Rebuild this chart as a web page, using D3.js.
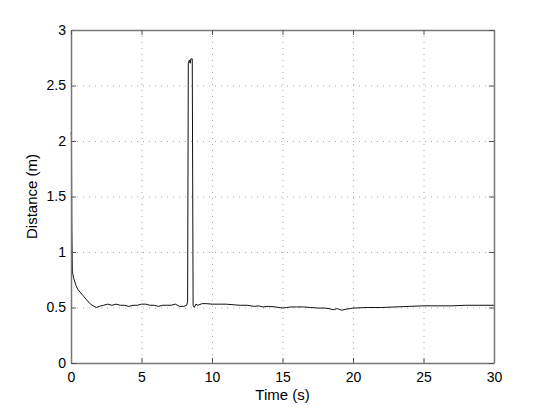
<!DOCTYPE html>
<html>
<head>
<meta charset="utf-8">
<script src="https://cdn.jsdelivr.net/npm/d3@7"></script>
<style>
  body { margin: 0; background: #fff; }
  svg { display: block; font-family: Arial, "Liberation Sans", Helvetica, sans-serif; }
</style>
</head>
<body>
<div id="chart"></div>
<script>
var time = [0, 0.03, 0.06, 0.1, 0.2, 0.35, 0.5, 0.7, 0.9, 1.1, 1.3, 1.5, 1.8, 2.0,
    2.3, 2.6, 2.9, 3.2, 3.5, 3.8, 4.1, 4.4, 4.7, 5.0, 5.3, 5.6, 5.9, 6.2, 6.5, 6.8,
    7.1, 7.4, 7.7, 8.0, 8.2, 8.27, 8.32, 8.4, 8.45, 8.5, 8.6, 8.66, 8.75, 8.85, 9.0,
    9.3, 9.6, 10.0, 10.5, 11.0, 11.5, 12.0, 12.5, 13.0, 13.3, 13.6, 14.0, 14.5, 15.0,
    15.3, 15.6, 16.0, 16.5, 17.0, 17.5, 18.0, 18.3, 18.6, 18.9, 19.2, 19.5, 19.8, 20.0,
    21.0, 22.0, 23.0, 24.0, 25.0, 26.0, 27.0, 28.0, 29.0, 30.0];
var distance = [2.08, 2.05, 1.2, 0.82, 0.76, 0.70, 0.66, 0.63, 0.60, 0.57, 0.54, 0.52, 0.50, 0.51,
    0.52, 0.53, 0.52, 0.53, 0.52, 0.52, 0.51, 0.52, 0.52, 0.53, 0.53, 0.52, 0.52, 0.51, 0.52, 0.52,
    0.52, 0.53, 0.51, 0.51, 0.52, 0.55, 2.70, 2.73, 2.70, 2.74, 2.74, 0.52, 0.50, 0.53, 0.52,
    0.535, 0.535, 0.53, 0.53, 0.53, 0.525, 0.52, 0.52, 0.51, 0.515, 0.505, 0.51, 0.505, 0.495,
    0.50, 0.505, 0.505, 0.505, 0.50, 0.495, 0.495, 0.49, 0.48, 0.49, 0.475, 0.485, 0.49, 0.495,
    0.50, 0.50, 0.505, 0.51, 0.515, 0.515, 0.515, 0.52, 0.52, 0.52];
var xTicks = [0, 5, 10, 15, 20, 25, 30];
var yTicks = [0, 0.5, 1, 1.5, 2, 2.5, 3];

var width = 546, height = 409;
var margin = {top: 30, right: 52, bottom: 46, left: 71};
var innerW = width - margin.left - margin.right;
var innerH = height - margin.top - margin.bottom;

var svg = d3.select("#chart").append("svg")
    .attr("width", width)
    .attr("height", height);

var g = svg.append("g")
    .attr("transform", "translate(" + margin.left + "," + margin.top + ")");

var x = d3.scaleLinear().domain([0, 30]).range([0, innerW]);
var y = d3.scaleLinear().domain([0, 3]).range([innerH, 0]);

// dotted grid
g.selectAll(".gx").data(xTicks.slice(1, -1)).enter().append("line")
    .attr("x1", d => x(d) + 0.5).attr("x2", d => x(d) + 0.5)
    .attr("y1", 0).attr("y2", innerH)
    .attr("stroke", "#aaa").attr("stroke-dasharray", "1,5");
g.selectAll(".gy").data(yTicks.slice(1, -1)).enter().append("line")
    .attr("y1", d => y(d) + 0.5).attr("y2", d => y(d) + 0.5)
    .attr("x1", 0).attr("x2", innerW)
    .attr("stroke", "#aaa").attr("stroke-dasharray", "1,5");

// data line
var line = d3.line().x((d, i) => x(time[i])).y(d => y(d));
g.append("path")
    .datum(distance)
    .attr("d", line)
    .attr("fill", "none")
    .attr("stroke", "#111")
    .attr("stroke-width", 1);

// axes with inward ticks, box on all sides
var tickLen = 5;
g.append("g").attr("transform", "translate(0," + innerH + ")")
    .call(d3.axisBottom(x).tickValues(xTicks).tickSizeInner(-tickLen).tickSizeOuter(0).tickPadding(9));
g.append("g")
    .call(d3.axisLeft(y).tickValues(yTicks).tickFormat(d3.format("")).tickSizeInner(-tickLen).tickSizeOuter(0).tickPadding(5));
g.append("g")
    .call(d3.axisTop(x).tickValues(xTicks).tickSizeInner(-tickLen).tickSizeOuter(0).tickFormat(""));
g.append("g").attr("transform", "translate(" + innerW + ",0)")
    .call(d3.axisRight(y).tickValues(yTicks).tickSizeInner(-tickLen).tickSizeOuter(0).tickFormat(""));

g.selectAll(".domain").attr("stroke", "#777").attr("stroke-width", 1.5);
g.selectAll(".tick line").attr("stroke", "#555");
g.selectAll(".tick text").attr("font-size", 14).attr("fill", "#000")
    .attr("font-family", "Arial, 'Liberation Sans', Helvetica, sans-serif");

svg.append("text")
    .attr("x", margin.left + innerW / 2)
    .attr("y", 400)
    .attr("text-anchor", "middle")
    .attr("font-size", 15)
    .text("Time (s)");

svg.append("text")
    .attr("transform", "translate(37," + (margin.top + innerH / 2) + ") rotate(-90)")
    .attr("text-anchor", "middle")
    .attr("font-size", 15)
    .text("Distance (m)");
</script>
</body>
</html>
